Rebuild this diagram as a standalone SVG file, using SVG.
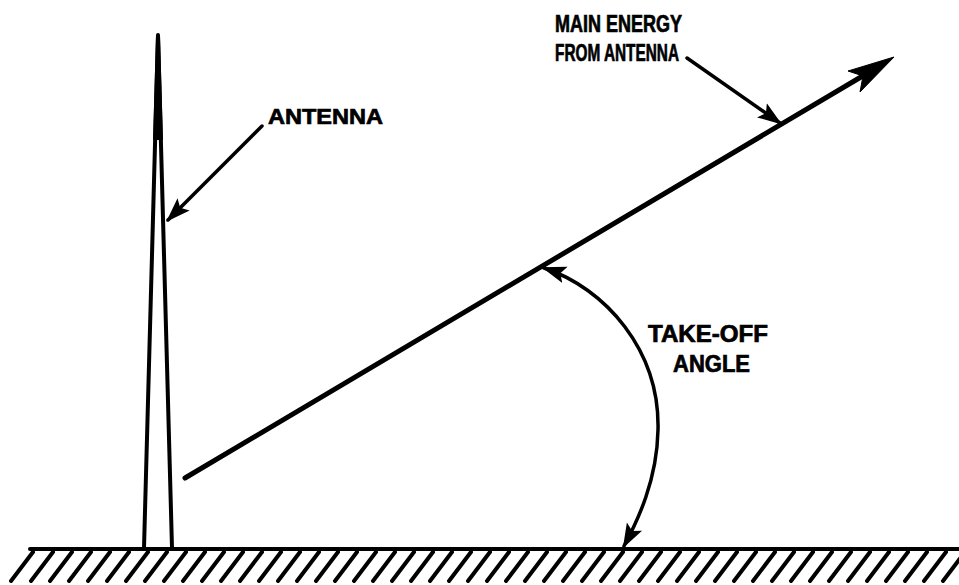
<svg xmlns="http://www.w3.org/2000/svg" width="959" height="585" viewBox="0 0 959 585">
<style>
.ln{stroke:#000;fill:none;stroke-linecap:round;stroke-linejoin:round}
.t{font-family:"Liberation Sans",Arial,sans-serif;font-weight:bold;fill:#000;stroke:#000;stroke-width:0.7}
</style>
<defs>
<marker id="ahs" viewBox="0 0 10 10" refX="9" refY="5" markerWidth="7" markerHeight="7" orient="auto">
<path d="M0,1.5 L10,5 L0,8.5 L2,5 Z" fill="#000"/>
</marker>
<marker id="ahsr" viewBox="0 0 10 10" refX="1" refY="5" markerWidth="7" markerHeight="7" orient="auto">
<path d="M10,1.5 L0,5 L10,8.5 L8,5 Z" fill="#000"/>
</marker>
</defs>
<rect width="959" height="585" fill="#fff"/>
<g id="ground">
<line class="ln" x1="30" y1="549" x2="959" y2="549" stroke-width="4"/>
<g class="ln" stroke-width="4">
<path d="M33,552 L11,581 M53,552 L31,581 M72,552 L50,581 M91,552 L69,581 M110,552 L88,581 M129,552 L107,581 M148,552 L126,581 M167,552 L145,581 M186,552 L164,581 M205,552 L183,581 M224,552 L202,581 M243,552 L221,581 M262,552 L240,581 M281,552 L259,581 M300,552 L278,581 M319,552 L297,581 M338,552 L316,581 M357,552 L335,581 M376,552 L354,581 M395,552 L373,581 M414,552 L392,581 M433,552 L411,581 M452,552 L430,581 M471,552 L449,581 M490,552 L468,581 M509,552 L487,581 M528,552 L506,581 M547,552 L525,581 M566,552 L544,581 M585,552 L563,581 M604,552 L582,581 M623,552 L601,581 M642,552 L620,581 M661,552 L639,581 M680,552 L658,581 M699,552 L677,581 M718,552 L696,581 M737,552 L715,581 M756,552 L734,581 M775,552 L753,581 M794,552 L772,581 M813,552 L791,581 M832,552 L810,581 M851,552 L829,581 M870,552 L848,581 M889,552 L867,581 M908,552 L886,581 M927,552 L905,581 M946,552 L924,581 M965,552 L943,581"/>
</g>
</g>
<g id="antenna">
<path d="M156,36 L160,36 L163,140 L153,140 Z" fill="#000"/>
<path class="ln" d="M158,35 L144,548 M158,35 L172,548" stroke-width="4"/>
</g>
<g id="connectors">
<line class="ln" x1="185" y1="478" x2="866" y2="74" stroke-width="5"/>
<path d="M894,57 L848,71 L863,76 L860,92 Z" fill="#000" stroke="#000" stroke-width="1" stroke-linejoin="round"/>
<line class="ln" x1="262" y1="126" x2="168" y2="220" stroke-width="3.5" marker-end="url(#ahs)"/>
<line class="ln" x1="687" y1="58" x2="780" y2="123" stroke-width="3.5" marker-end="url(#ahs)"/>
<path class="ln" d="M544,268 C605,288 660,350 658,430 C657,480 638,520 624,546" stroke-width="3.5" marker-start="url(#ahsr)" marker-end="url(#ahs)"/>
</g>
<g id="label-antenna"><text class="t" x="268" y="124" font-size="22" textLength="115" lengthAdjust="spacingAndGlyphs">ANTENNA</text></g>
<g id="label-main">
<text class="t" x="555" y="32" font-size="23" textLength="127" lengthAdjust="spacingAndGlyphs">MAIN ENERGY</text>
<text class="t" x="555" y="61" font-size="23" textLength="124" lengthAdjust="spacingAndGlyphs">FROM ANTENNA</text>
</g>
<g id="label-angle">
<text class="t" x="648" y="342" font-size="23" textLength="120" lengthAdjust="spacingAndGlyphs">TAKE-OFF</text>
<text class="t" x="673" y="372" font-size="23" textLength="77" lengthAdjust="spacingAndGlyphs">ANGLE</text>
</g>
</svg>
